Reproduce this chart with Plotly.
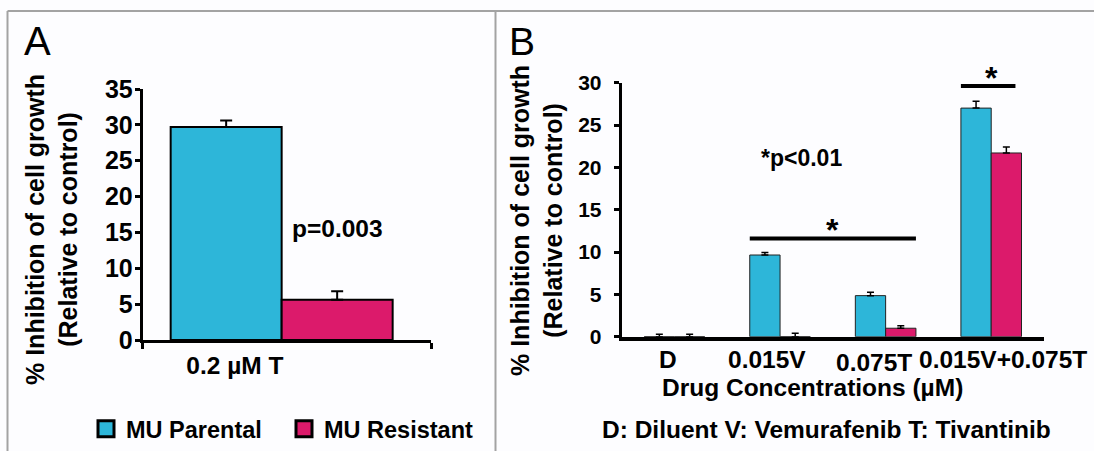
import plotly.graph_objects as go

# ---------------- data ----------------
series_names = ["MU Parental", "MU Resistant"]

# Panel A
categories_a = ["0.2 µM T"]
parental_a = [29.7]
parental_a_err = [0.9]
resistant_a = [5.6]
resistant_a_err = [1.2]

# Panel B
categories_b = ["D", "0.015V", "0.075T", "0.015V+0.075T"]
parental_b = [0.0, 9.65, 4.85, 27.0]
parental_b_err = [0.3, 0.3, 0.4, 0.8]
resistant_b = [0.0, 0.0, 1.0, 21.7]
resistant_b_err = [0.3, 0.4, 0.3, 0.7]

y_ticks_a = [0, 5, 10, 15, 20, 25, 30, 35]
y_ticks_b = [0, 5, 10, 15, 20, 25, 30]

# ---------------- style ----------------
W, H = 1094, 451
BLUE = "#2db6d9"
PINK = "#dc1a6b"
FONT = "Liberation Sans, Arial, sans-serif"
BG = "#fdfdff"
TXT = 24.5


def fx(p):
    return p / W


def fy(p):
    return 1 - p / H


bw_a = 0.385
shift_a = -0.018
bw_b = 0.287

fig = go.Figure()

# Panel A bars
for name, vals, errs, col, off in [
    (series_names[0], parental_a, parental_a_err, BLUE, -bw_a + shift_a),
    (series_names[1], resistant_a, resistant_a_err, PINK, shift_a),
]:
    fig.add_trace(go.Bar(
        x=categories_a, y=vals, name=name, width=bw_a, offset=off,
        marker=dict(color=col, line=dict(color="black", width=2)),
        error_y=dict(type="data", array=errs, arrayminus=[0] * len(errs), symmetric=False,
                     color="black", thickness=2, width=6),
        xaxis="x", yaxis="y", showlegend=False, legendgroup=name,
    ))

# Panel B bars
for name, vals, errs, col, off in [
    (series_names[0], parental_b, parental_b_err, BLUE, -bw_b),
    (series_names[1], resistant_b, resistant_b_err, PINK, 0.0),
]:
    fig.add_trace(go.Bar(
        x=categories_b, y=vals, name=name, width=bw_b, offset=off,
        marker=dict(color=col, line=dict(color="#222", width=1)),
        error_y=dict(type="data", array=errs, arrayminus=[0] * len(errs), symmetric=False,
                     color="black", thickness=1.5, width=3.5),
        xaxis="x2", yaxis="y2", showlegend=False, legendgroup=name,
    ))

# legend proxies
for name, col in zip(series_names, [BLUE, PINK]):
    fig.add_trace(go.Scatter(
        x=[None], y=[None], mode="markers", name=name, legendgroup=name,
        marker=dict(symbol="square", size=16, color=col, line=dict(color="black", width=3)),
        xaxis="x", yaxis="y",
    ))

bold = dict(family=FONT, color="black", weight="bold")


def paper_text(text, x, y, size, angle=0, weight_bold=True):
    f = dict(size=size, **bold) if weight_bold else dict(family=FONT, size=size, color="black")
    return dict(text=text, x=fx(x), y=fy(y), xref="paper", yref="paper", showarrow=False,
                xanchor="center", yanchor="middle", textangle=angle, font=f)


annotations = []
# panel letters
annotations.append(paper_text("A", 37, 41, 40, weight_bold=False))
annotations.append(paper_text("B", 522, 41, 39, weight_bold=False))
# y titles
ytitle = "% Inhibition of cell growth<br>(Relative to control)"
annotations.append(paper_text(ytitle, 51, 230, 25, angle=-90))
annotations.append(paper_text(ytitle, 536, 221, 25, angle=-90))
# panel B category labels
label_shift_px = [-6, -13, -12, 12]
label_dy_px = [0, 0, -3, 0]
for cat, dx, dy in zip(categories_b, label_shift_px, label_dy_px):
    annotations.append(dict(text=cat, x=cat, y=0, xref="x2", yref="y2", showarrow=False,
                            xanchor="center", yanchor="middle", yshift=-23 + dy, xshift=dx,
                            font=dict(size=TXT, **bold)))
annotations.append(paper_text("Drug Concentrations (µM)", 812, 387, TXT))
annotations.append(paper_text("D: Diluent V: Vemurafenib T: Tivantinib", 826, 429, TXT))
# p-values
annotations.append(dict(text="p=0.003", x=0.177, y=15.6, xref="x", yref="y", showarrow=False,
                        xanchor="center", yanchor="middle", font=dict(size=TXT, **bold)))
annotations.append(dict(text="*p<0.01", x=1.207, y=21.1, xref="x2", yref="y2", showarrow=False,
                        xanchor="center", yanchor="middle", font=dict(size=23, **bold)))
# stars above brackets
i_v = categories_b.index("0.015V")
i_t = categories_b.index("0.075T")
i_c = categories_b.index("0.015V+0.075T")
annotations.append(dict(text="*", x=(i_v + i_t) / 2, y=11.6, xref="x2", yref="y2", showarrow=False,
                        xanchor="center", yanchor="bottom", yshift=-12, font=dict(size=32, **bold)))
annotations.append(dict(text="*", x=i_c, y=29.6, xref="x2", yref="y2", showarrow=False,
                        xanchor="center", yanchor="bottom", yshift=-12, font=dict(size=32, **bold)))

shapes = [
    # frame
    dict(type="line", xref="paper", yref="paper", x0=fx(7.5), x1=1.01, y0=fy(11), y1=fy(11),
         line=dict(color="#a3a3a3", width=2)),
    dict(type="line", xref="paper", yref="paper", x0=fx(7.5), x1=fx(7.5), y0=fy(11), y1=-0.01,
         line=dict(color="#a3a3a3", width=2)),
    dict(type="line", xref="paper", yref="paper", x0=fx(495.5), x1=fx(495.5), y0=fy(11), y1=-0.01,
         line=dict(color="#a3a3a3", width=2)),
    # significance brackets
    dict(type="line", xref="x2", yref="y2", x0=i_v - bw_b, x1=i_t + bw_b, y0=11.6, y1=11.6,
         line=dict(color="black", width=4)),
    dict(type="line", xref="x2", yref="y2", x0=i_c - bw_b, x1=i_c + bw_b * 0.8, y0=29.6, y1=29.6,
         line=dict(color="black", width=4)),
]

fig.update_layout(
    width=W, height=H,
    margin=dict(l=0, r=0, t=0, b=0, autoexpand=False),
    paper_bgcolor=BG, plot_bgcolor=BG,
    barmode="overlay",
    font=dict(family=FONT, color="black"),
    xaxis=dict(domain=[fx(142.7), fx(431)], type="category", categoryarray=categories_a,
               range=[-0.5, 0.5], showline=True, linecolor="black", linewidth=3,
               ticks="outside", tickson="boundaries", ticklen=6, tickwidth=3, tickcolor="black",
               showgrid=False, zeroline=False, ticklabelshift=-52, ticklabelstandoff=2,
               tickfont=dict(size=TXT, **bold), anchor="y", automargin=False),
    yaxis=dict(domain=[fy(340), fy(89)], range=[0, 35], tickvals=y_ticks_a,
               showline=True, linecolor="black", linewidth=3, ticks="outside", ticklen=5, tickwidth=3,
               tickcolor="black", showgrid=False, zeroline=False, ticklabelstandoff=-3,
               tickfont=dict(size=25, **bold), anchor="x", automargin=False),
    xaxis2=dict(domain=[fx(621.7), fx(1044)], type="category", categoryarray=categories_b,
                range=[-0.5, 3.5], showline=True, linecolor="black", linewidth=4,
                ticks="", showticklabels=False, showgrid=False, zeroline=False, anchor="y2",
                automargin=False),
    yaxis2=dict(domain=[fy(336.7), fy(82.7)], range=[0, 30], tickvals=y_ticks_b,
                showline=True, linecolor="black", linewidth=3, ticks="outside", ticklen=5, tickwidth=3,
                tickcolor="black", showgrid=False, zeroline=False, ticklabelstandoff=8,
                tickfont=dict(size=21, **bold), anchor="x2", automargin=False),
    legend=dict(orientation="h", x=fx(86), y=fy(429), xanchor="left", yanchor="middle",
                font=dict(size=23.5, **bold), bgcolor="rgba(0,0,0,0)",
                entrywidth=153, entrywidthmode="pixels", itemclick=False, itemdoubleclick=False),
    annotations=annotations,
    shapes=shapes,
)

fig.write_html("out.html", config={"displayModeBar": False},
               post_script="document.body.style.margin='0px';")
